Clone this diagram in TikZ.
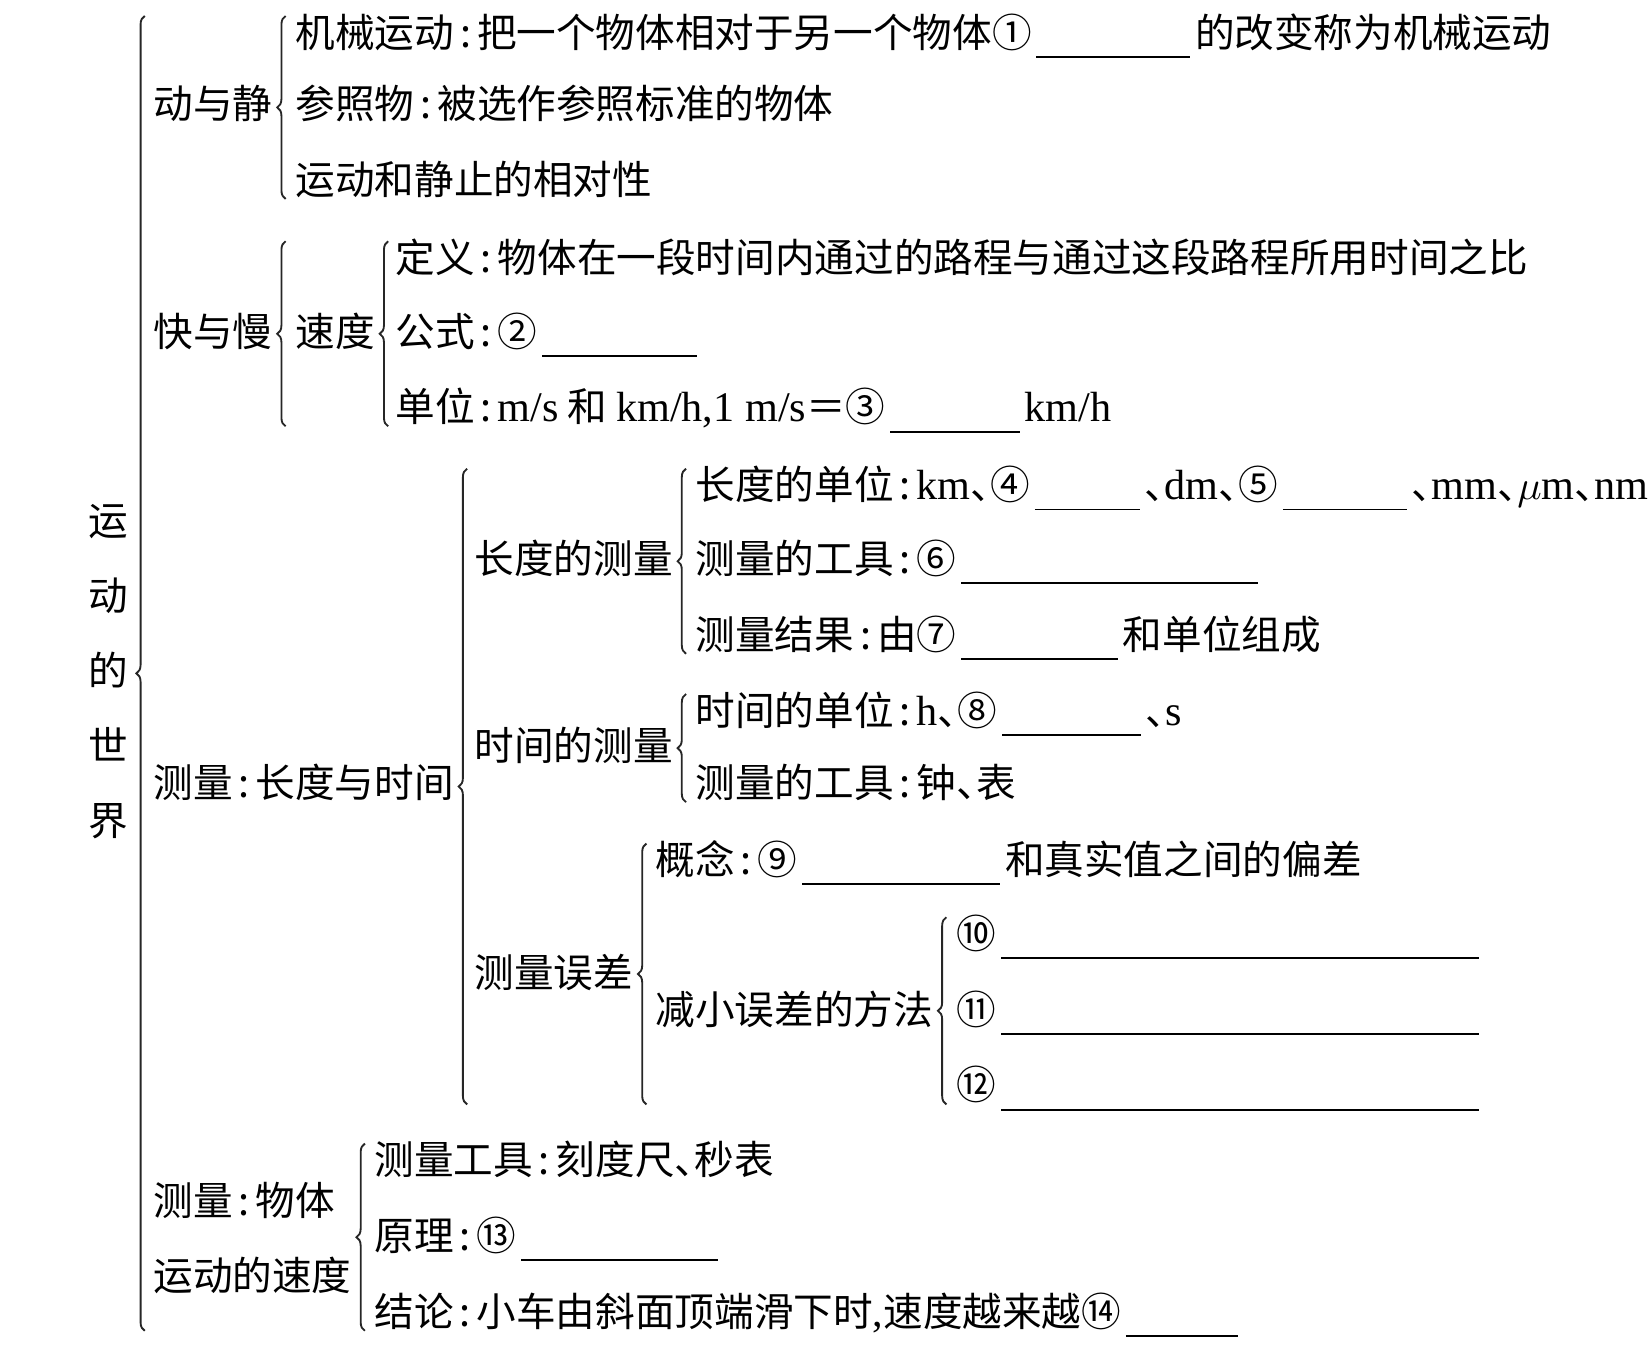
\documentclass[tikz,border=0pt]{standalone}
\usepackage{fontspec}
\setmainfont{Liberation Serif}
\newfontfamily\cjk{Noto Sans CJK SC}
\usetikzlibrary{decorations.pathreplacing,calc}
\newcommand\blank[1]{\hspace{0.12em}\rule[-0.27em]{#1}{0.5pt}\hspace{0.12em}}
\newcommand\cln{\makebox[0.58em]{:}}
\newcommand\dun{\makebox[0.5em][l]{、}}
\newcommand\lat{\fontsize{11.4pt}{13pt}\selectfont\rmfamily}

\begin{document}
\begin{tikzpicture}[x=0.01cm, y=-0.01cm,
    every node/.style={inner sep=0pt, font=\fontsize{10.7pt}{13pt}\selectfont\cjk},
    txt/.style={anchor=west, text height=0.82em, text depth=0.1em},
    brc/.style={decorate, decoration={brace, amplitude=0.08cm}, line width=0.5pt, black!85}]
    \useasboundingbox (0,0) rectangle (1568,1287);

    % root
    \node[align=center, font=\fontsize{10.7pt}{20.3pt}\selectfont\cjk] (W) at (103,638) {运\\动\\的\\世\\界};

    % dong yu jing
    \node[txt] (A) at (145,100) {动与静};
    \node[txt] (A1) at (280,32) {机械运动\cln 把一个物体相对于另一个物体①\blank{1.46cm}的改变称为机械运动};
    \node[txt] (A2) at (280,100) {参照物\cln 被选作参照标准的物体};
    \node[txt] (A3) at (280,172) {运动和静止的相对性};

    % kuai yu man
    \node[txt] (B) at (145,316) {快与慢};
    \node[txt] (V) at (280,316) {速度};
    \node[txt] (V1) at (375,246) {定义\cln 物体在一段时间内通过的路程与通过这段路程所用时间之比};
    \node[txt] (V2) at (375,316) {公式\cln ②\blank{1.47cm}};
    \node[txt] (V3) at (375,388) {单位\cln{\lat m/s} 和 {\lat km/h,1 m/s}＝③\blank{1.23cm}{\lat km/h}};

    % celiang: changdu yu shijian
    \node[txt] (C) at (145,745) {测量\cln 长度与时间};
    \node[txt] (L) at (450,532) {长度的测量};
    \node[txt] (L1) at (660,462) {长度的单位\cln{\lat km}\dun ④\blank{1.0cm}\dun{\lat dm}\dun ⑤\blank{1.18cm}\dun{\lat mm}\dun$\mu${\lat m}\dun{\lat nm}};
    \node[txt] (L2) at (660,532) {测量的工具\cln ⑥\blank{2.82cm}};
    \node[txt] (L3) at (660,604) {测量结果\cln 由⑦\blank{1.49cm}和单位组成};
    \node[txt] (T) at (450,710) {时间的测量};
    \node[txt] (T1) at (660,676) {时间的单位\cln{\lat h}\dun ⑧\blank{1.32cm}\dun{\lat s}};
    \node[txt] (T2) at (660,745) {测量的工具\cln 钟\dun 表};
    \node[txt] (E) at (450,925) {测量误差};
    \node[txt] (E1) at (622,818) {概念\cln ⑨\blank{1.88cm}和真实值之间的偏差};
    \node[txt] (M) at (622,960) {减小误差的方法};
    \node[txt] (M1) at (908,888) {⑩\blank{4.54cm}};
    \node[txt] (M2) at (908,960) {⑪\blank{4.54cm}};
    \node[txt] (M3) at (908,1032) {⑫\blank{4.54cm}};

    % celiang: sudu
    \node[align=left, anchor=west, font=\fontsize{10.7pt}{20.3pt}\selectfont\cjk] (D) at (145,1176) {测量\cln 物体\\运动的速度};
    \node[txt] (D1) at (355,1103) {测量工具\cln 刻度尺\dun 秒表};
    \node[txt] (D2) at (355,1175) {原理\cln ⑬\blank{1.87cm}};
    \node[txt] (D3) at (355,1247) {结论\cln 小车由斜面顶端滑下时{\lat ,}速度越来越⑭\blank{1.06cm}};

    % braces
    \draw[brc] ($(W.east |- D3.south)+(15,0)$) -- ($(W.east |- A1.north)+(15,0)$);
    \draw[brc] ($(A.east |- A3.south)+(12,0)$) -- ($(A.east |- A1.north)+(12,0)$);
    \draw[brc] ($(B.east |- V3.south)+(12,0)$) -- ($(B.east |- V1.north)+(12,0)$);
    \draw[brc] ($(V.east |- V3.south)+(12,0)$) -- ($(V.east |- V1.north)+(12,0)$);
    \draw[brc] ($(C.east |- M3.south)+(12,0)$) -- ($(C.east |- L1.north)+(12,0)$);
    \draw[brc] ($(L.east |- L3.south)+(12,0)$) -- ($(L.east |- L1.north)+(12,0)$);
    \draw[brc] ($(T.east |- T2.south)+(12,0)$) -- ($(T.east |- T1.north)+(12,0)$);
    \draw[brc] ($(E.east |- M3.south)+(12,0)$) -- ($(E.east |- E1.north)+(12,0)$);
    \draw[brc] ($(M.east |- M3.south)+(12,0)$) -- ($(M.east |- M1.north)+(12,0)$);
    \draw[brc] ($(D.east |- D3.south)+(12,0)$) -- ($(D.east |- D1.north)+(12,0)$);
\end{tikzpicture}
\end{document}
